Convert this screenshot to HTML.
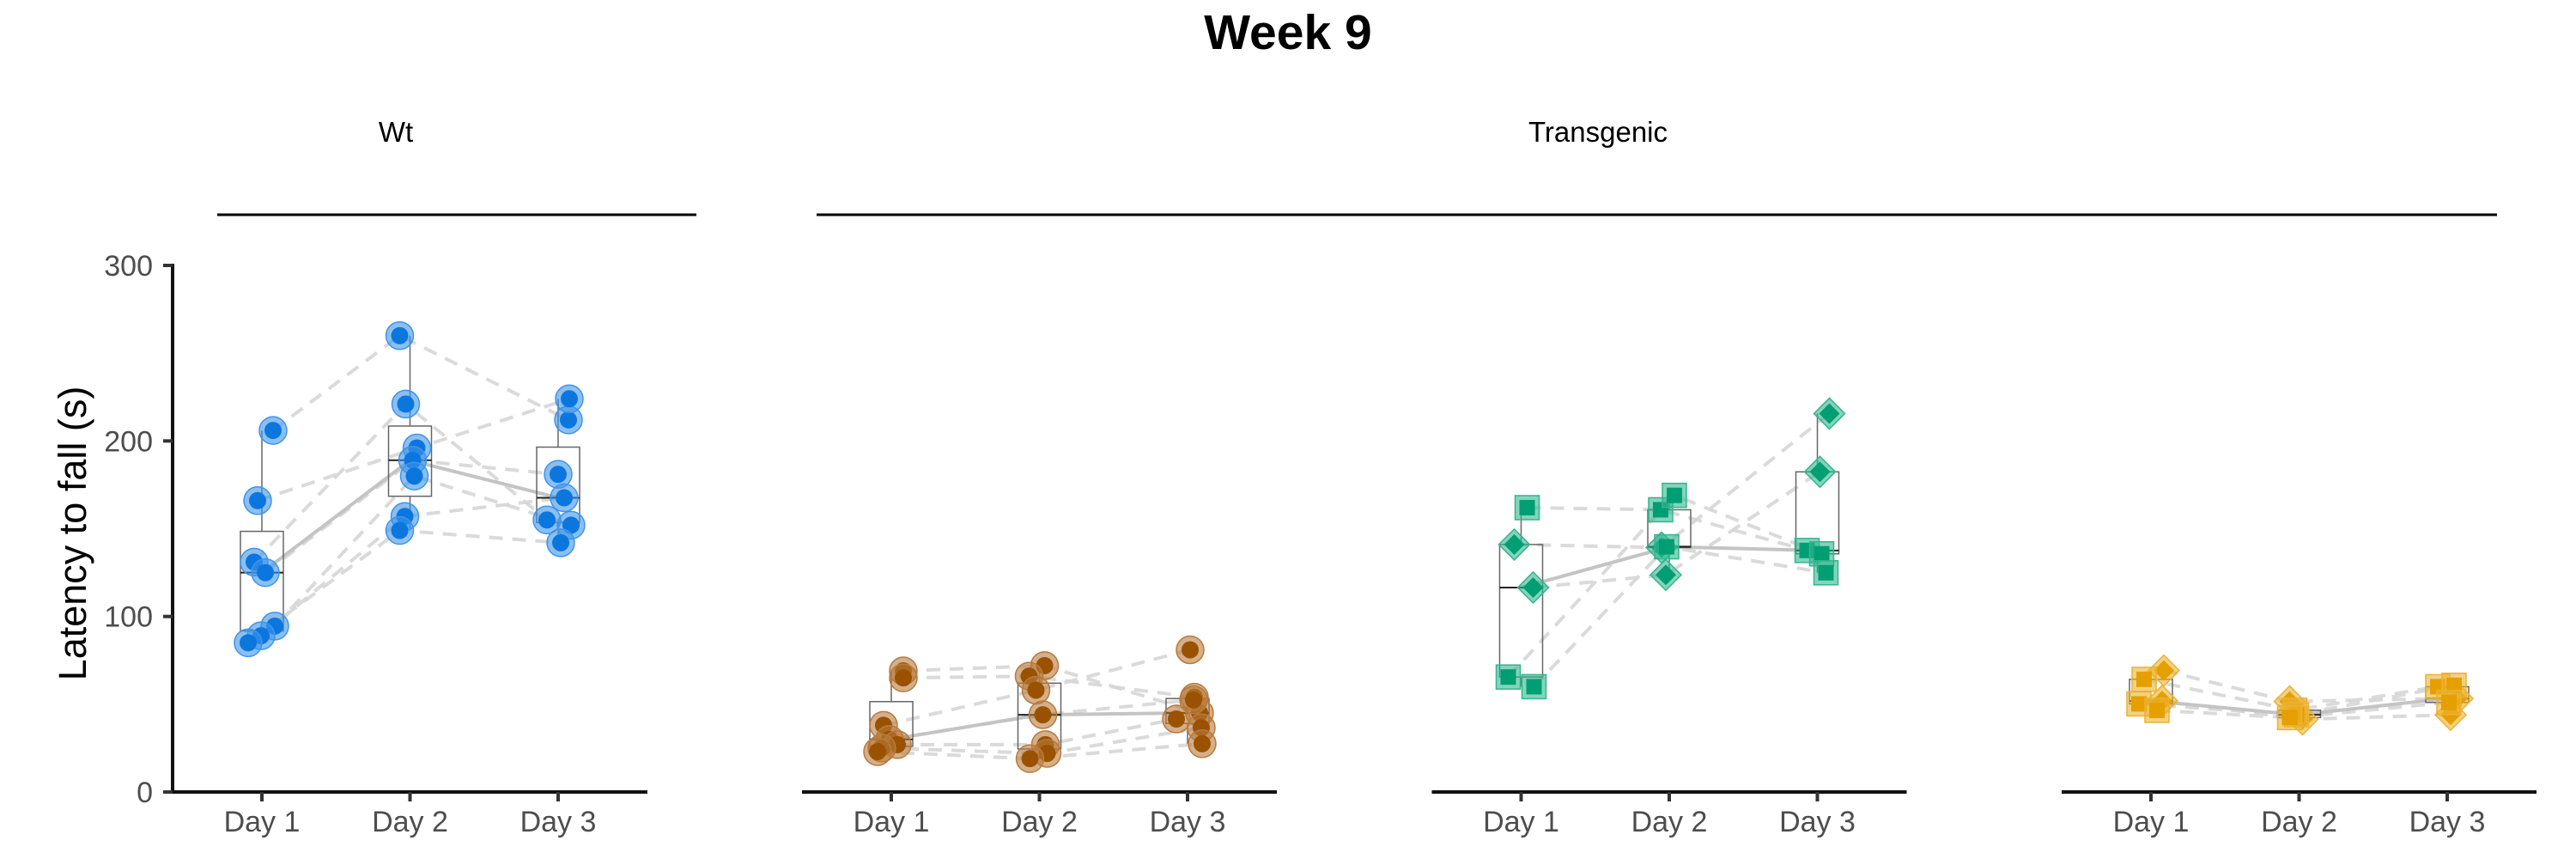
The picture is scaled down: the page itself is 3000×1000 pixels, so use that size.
<!DOCTYPE html>
<html><head><meta charset="utf-8"><style>
html,body{margin:0;padding:0;background:#fff;}
svg{display:block;font-family:"Liberation Sans",Arial,sans-serif;}
</style></head><body>
<svg id="chart" width="3000" height="1000" viewBox="0 0 3000 1000" xmlns="http://www.w3.org/2000/svg">
<text x="1500" y="57" text-anchor="middle" font-size="57" font-weight="bold" fill="#000">Week 9</text>
<text x="461" y="165" text-anchor="middle" font-size="33" fill="#000">Wt</text>
<line x1="253" y1="250" x2="811" y2="250" stroke="#000" stroke-width="3"/>
<text x="1861" y="165" text-anchor="middle" font-size="33" fill="#000">Transgenic</text>
<line x1="951" y1="250" x2="2908" y2="250" stroke="#000" stroke-width="3"/>
<text transform="translate(100,621) rotate(-90)" text-anchor="middle" font-size="45" fill="#000">Latency to fall (s)</text>
<g id="plots"></g>
</svg>
<script>
const categories = ["Day 1", "Day 2", "Day 3"];
const yTicks = [0, 100, 200, 300];
// per-panel subject values [day1, day2, day3]
const blueValues = [[206,260,212],[166,196,224],[131,221,155],[125,189,181],[94.5,180,152],[89,157,167.6],[85,149,142]];
const blueJitter = [[13,-12,12],[-5,8,13],[-9,-5,-13],[4,3,0],[15,5,15],[-1,-6,7],[-16,-12,3]];
const blueShapes = ["c","c","c","c","c","c","c"];
const brownValues = [[69,72,45],[65,66,54],[38,58,81],[30,44,52.5],[27,27,41.6],[25,22,36.6],[23,19,27.5]];
const brownJitter = [[14,6,14],[14,-12,8],[-9,-4,3],[-2,4,7],[7,7,-13],[-11,9,16],[-16,-11,17]];
const brownShapes = ["c","c","c","c","c","c","c"];
const greenValues = [[141,139.3,215.6],[116.5,123.7,182.4],[162,160.8,137.6],[65.5,169,135.7],[60,139.7,124.9]];
const greenJitter = [[-8,-9,14],[14,-4,3],[7,-10,-12],[-15,6,5],[15,-3,10]];
const greenShapes = ["d","d","s","s","s"];
const orangeValues = [[69.2,51.6,53.3],[51.9,41.4,44],[64.2,46.6,60],[50.2,44,60.8],[46.5,42.4,51]];
const orangeJitter = [[15,-11,12],[13,4,4],[-8,-5,-11],[-14,-3,8],[7,-11,2]];
const orangeShapes = ["d","d","s","s","s"];

const NS = "http://www.w3.org/2000/svg";
const Y0 = 922, Y300 = 309;
function yScale(v){ return Y0 + (Y300 - Y0) * v / 300; }
function mk(tag, attrs, parent){ const e=document.createElementNS(NS,tag); for(const k in attrs) e.setAttribute(k,attrs[k]); parent.appendChild(e); return e; }
function quant(arr,p){ const s=[...arr].sort((a,b)=>a-b); const h=(s.length-1)*p; const lo=Math.floor(h); return s[lo]+(h-lo)*((s[Math.min(lo+1,s.length-1)])-s[lo]); }

const panels = [
  {name:"wt", x0:305, values:blueValues, jitter:blueJitter, shapes:blueShapes, col:"#0b76de", ring:"#3d95ea"},
  {name:"transgenic-brown", x0:1038, values:brownValues, jitter:brownJitter, shapes:brownShapes, col:"#9a5200", ring:"#b87a3c"},
  {name:"transgenic-green", x0:1771.5, values:greenValues, jitter:greenJitter, shapes:greenShapes, col:"#009e73", ring:"#33b58f"},
  {name:"transgenic-orange", x0:2505, values:orangeValues, jitter:orangeJitter, shapes:orangeShapes, col:"#e69f00", ring:"#ebb232"}
];
const STEP = 172.5;
const root = document.getElementById("plots");

panels.forEach((p, pi) => {
  const g = mk("g", {}, root);
  
  
  const xScale = i => p.x0 + i * STEP;
  // x axis
  const ax = mk("line", {x1:xScale(0)-104, x2:xScale(2)+104, y1:Y0, y2:Y0, stroke:"#111", "stroke-width":4}, g);
  
  
  categories.forEach((c, i) => {
    const t = mk("line", {x1:xScale(i), x2:xScale(i), y1:Y0, y2:Y0+11, stroke:"#333", "stroke-width":4}, g);
    
    
    const lb = mk("text", {x:xScale(i), y:968, "text-anchor":"middle", "font-size":34, fill:"#4d4d4d"}, g);
    lb.textContent = c;
    
    
  });
  if (pi === 0) {
    const ya = mk("line", {x1:201, x2:201, y1:Y300-2, y2:Y0+2, stroke:"#111", "stroke-width":4}, g);
    
    
    yTicks.forEach(v => {
      const t = mk("line", {x1:190, x2:201, y1:yScale(v), y2:yScale(v), stroke:"#333", "stroke-width":4}, g);
      
      
      const lb = mk("text", {x:178, y:yScale(v)+12, "text-anchor":"end", "font-size":34, fill:"#4d4d4d"}, g);
      lb.textContent = v;
      
      
    });
  }
  // dashed subject lines
  p.values.forEach((vals, s) => {
    const pts = vals.map((v, i) => (xScale(i) + p.jitter[s][i]) + "," + yScale(v)).join(" ");
    const pl = mk("polyline", {points:pts, fill:"none", stroke:"#d6d6d6", "stroke-width":4, "stroke-dasharray":"16 11", opacity:0.9}, g);
    
    
  });
  // per-day stats
  const stats = categories.map((c, i) => {
    const col = p.values.map(v => v[i]);
    const q1 = quant(col, .25), med = quant(col, .5), q3 = quant(col, .75);
    const iqr = q3 - q1;
    const lo = Math.min(...col.filter(v => v >= q1 - 1.5*iqr));
    const hi = Math.max(...col.filter(v => v <= q3 + 1.5*iqr));
    return {q1, med, q3, lo, hi};
  });
  const ml = mk("polyline", {points:stats.map((s, i) => xScale(i) + "," + yScale(s.med)).join(" "), fill:"none", stroke:"#c4c4c4", "stroke-width":4}, g);
  
  
  stats.forEach((s, i) => {
    const bx = mk("g", {}, g);
    
    
    const cx = xScale(i);
    mk("line", {x1:cx, x2:cx, y1:yScale(s.hi), y2:yScale(s.q3), stroke:"#666", "stroke-width":1.5}, bx);
    mk("line", {x1:cx, x2:cx, y1:yScale(s.q1), y2:yScale(s.lo), stroke:"#666", "stroke-width":1.5}, bx);
    mk("rect", {x:cx-25, y:yScale(s.q3), width:50, height:Math.max(1, yScale(s.q1)-yScale(s.q3)), fill:"none", stroke:"#666", "stroke-width":1.5}, bx);
    mk("line", {x1:cx-25, x2:cx+25, y1:yScale(s.med), y2:yScale(s.med), stroke:"#222", "stroke-width":2}, bx);
  });
  // points
  p.values.forEach((vals, s) => {
    vals.forEach((v, i) => {
      const cx = xScale(i) + p.jitter[s][i], cy = yScale(v);
      const pg = mk("g", {}, g);
      
      
      const sh = p.shapes[s];
      if (sh === "c") {
        mk("circle", {cx, cy, r:16, fill:p.ring, "fill-opacity":0.6, stroke:p.ring, "stroke-width":1.5}, pg);
        mk("circle", {cx, cy, r:10, fill:p.col}, pg);
      } else if (sh === "s") {
        mk("rect", {x:cx-14, y:cy-14, width:28, height:28, fill:p.ring, "fill-opacity":0.6, stroke:p.ring, "stroke-width":1.5}, pg);
        mk("rect", {x:cx-9, y:cy-9, width:18, height:18, fill:p.col}, pg);
      } else {
        mk("polygon", {points:`${cx},${cy-18} ${cx+18},${cy} ${cx},${cy+18} ${cx-18},${cy}`, fill:p.ring, "fill-opacity":0.6, stroke:p.ring, "stroke-width":1.5}, pg);
        mk("polygon", {points:`${cx},${cy-12} ${cx+12},${cy} ${cx},${cy+12} ${cx-12},${cy}`, fill:p.col}, pg);
      }
    });
  });
});
</script>
</body></html>
